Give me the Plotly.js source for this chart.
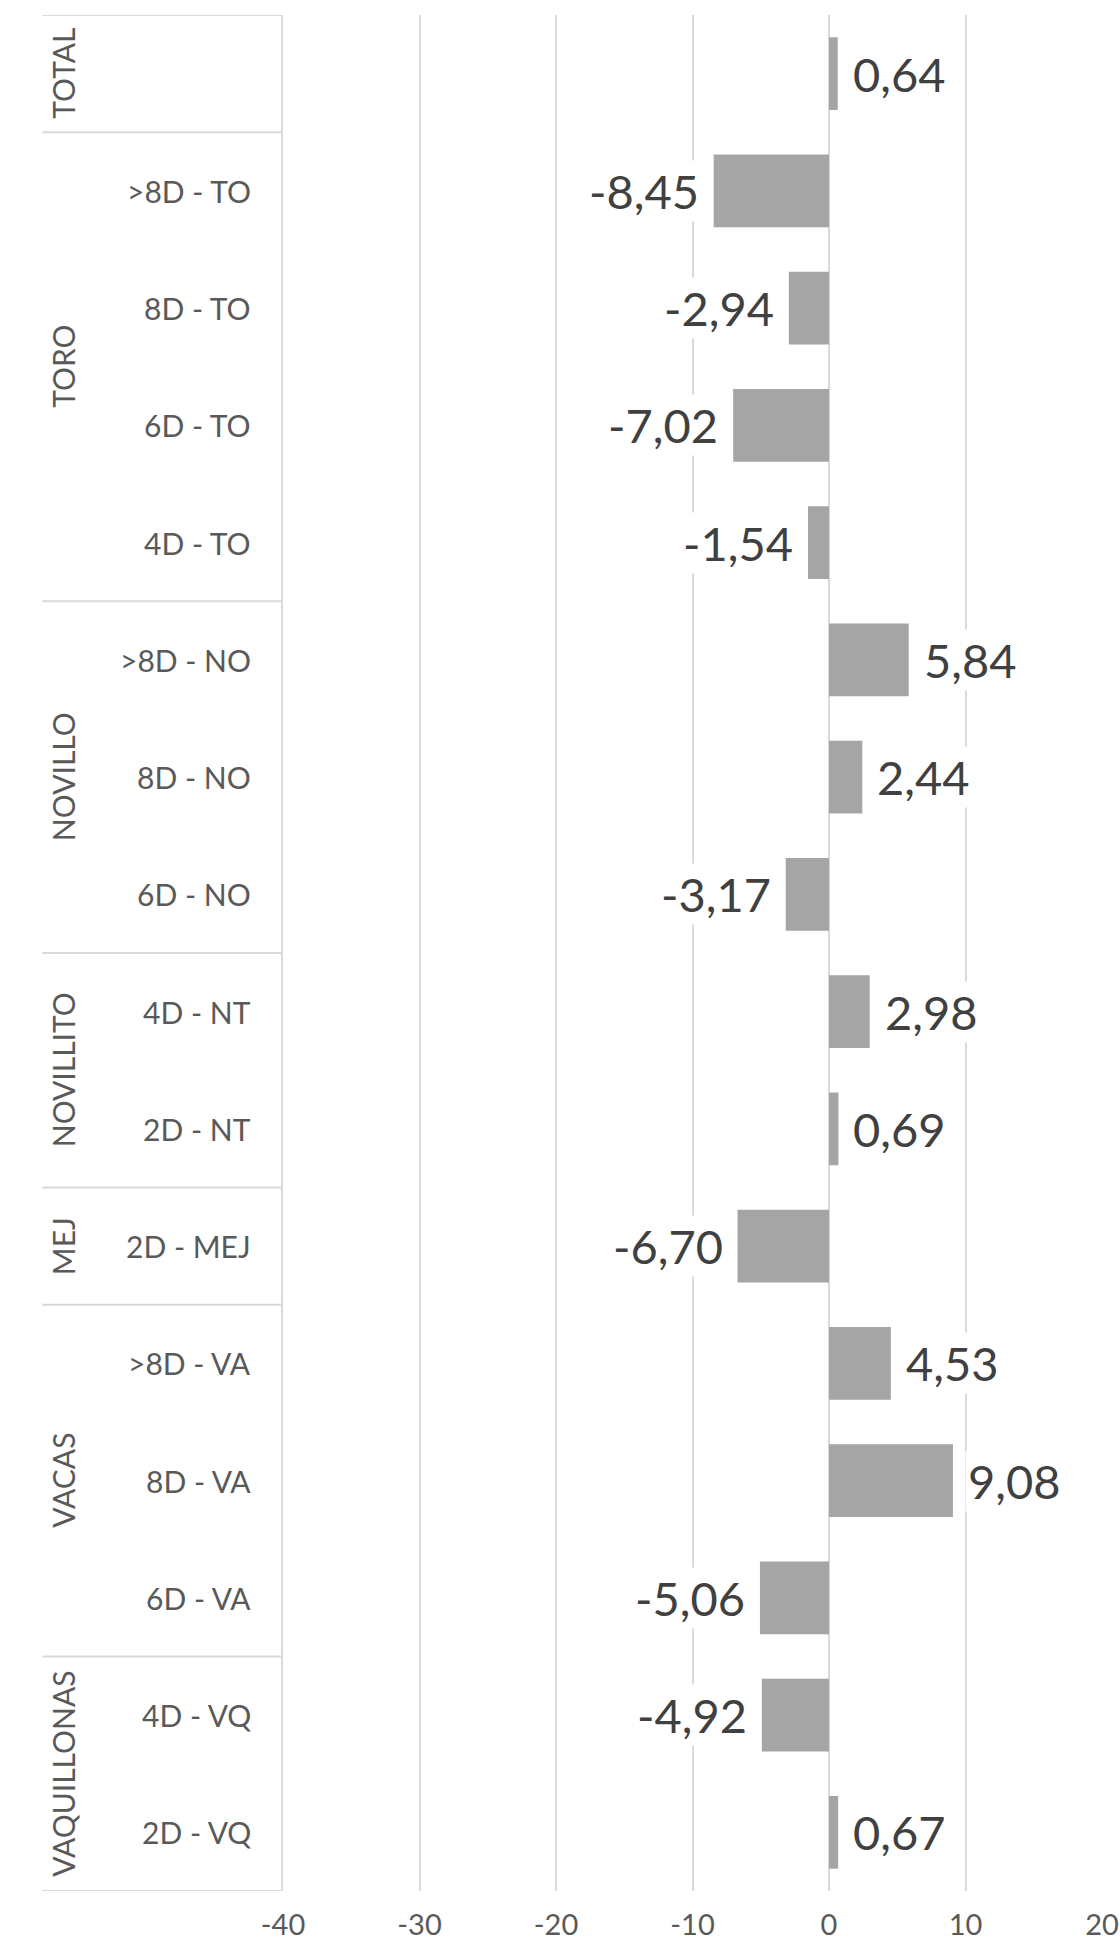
<!DOCTYPE html>
<html>
<head>
<meta charset="utf-8">
<script src="https://cdn.plot.ly/plotly-3.0.1.min.js"></script>
<style>
  html, body { margin: 0; padding: 0; background: #ffffff; }
  #chart { width: 1120px; height: 1948px; }
</style>
</head>
<body>
<div id="chart"></div>
<script>
// ---- data ----
const groups = ["TOTAL", "TORO", "NOVILLO", "NOVILLITO", "MEJ", "VACAS", "VAQUILLONAS"];
const groupSizes = [1, 4, 3, 2, 1, 3, 2];
const subcategories = ["", ">8D - TO", "8D - TO", "6D - TO", "4D - TO",
  ">8D - NO", "8D - NO", "6D - NO", "4D - NT", "2D - NT", "2D - MEJ",
  ">8D - VA", "8D - VA", "6D - VA", "4D - VQ", "2D - VQ"];
const values = [0.64, -8.45, -2.94, -7.02, -1.54, 5.84, 2.44, -3.17,
  2.98, 0.69, -6.70, 4.53, 9.08, -5.06, -4.92, 0.67];
const tickValues = [-40, -30, -20, -10, 0, 10, 20];
const tickLabels = ["-40", "-30", "-20", "-10", "0", "10", "20"];

// ---- build ----
const positions = values.map((v, i) => i);
const labelFont = "Lato, 'Open Sans', sans-serif";
const gridColor = "#D9D9D9";

const traces = [{
  type: "bar",
  orientation: "h",
  x: values,
  y: positions,
  marker: { color: "#A5A5A5" },
  hoverinfo: "x",
  showlegend: false
}];

const annotations = [];
const shapes = [];

// data labels
values.forEach((v, i) => {
  annotations.push({
    x: v, y: i, xref: "x", yref: "y",
    text: v.toFixed(2).replace(".", ","),
    showarrow: false,
    xanchor: v >= 0 ? "left" : "right",
    yanchor: "middle",
    xshift: v >= 0 ? 12 : -12,
    bgcolor: "#ffffff",
    borderpad: 2,
    font: { family: labelFont, size: 47, color: "#404040" }
  });
});

// subcategory labels
subcategories.forEach((s, i) => {
  if (!s) return;
  annotations.push({
    x: 0, y: i, xref: "paper", yref: "y",
    text: s, showarrow: false,
    xanchor: "right", yanchor: "middle", xshift: -30,
    font: { family: labelFont, size: 30, color: "#595959" }
  });
});

// group labels and dividers
const labelPanelLeft = -0.294;
const groupLabelX = -0.2686;
let start = 0;
shapes.push({
  type: "line", xref: "paper", yref: "y",
  x0: labelPanelLeft, x1: 0, y0: -0.5, y1: -0.5,
  line: { color: gridColor, width: 2 }
});
groups.forEach((g, gi) => {
  const end = start + groupSizes[gi];
  annotations.push({
    x: groupLabelX, y: (start + end - 1) / 2, xref: "paper", yref: "y",
    text: g, showarrow: false, textangle: -90,
    xanchor: "center", yanchor: "middle",
    font: { family: labelFont, size: 30, color: "#595959" }
  });
  shapes.push({
    type: "line", xref: "paper", yref: "y",
    x0: labelPanelLeft, x1: 0, y0: end - 0.5, y1: end - 0.5,
    line: { color: gridColor, width: 2 }
  });
  start = end;
});

const layout = {
  width: 1120,
  height: 1948,
  margin: { l: 283, r: 18, t: 15, b: 57 },
  paper_bgcolor: "#ffffff",
  plot_bgcolor: "#ffffff",
  bargap: 0.38,
  showlegend: false,
  xaxis: {
    range: [-40, 20],
    tickvals: tickValues,
    ticktext: tickLabels,
    showgrid: true,
    gridcolor: gridColor,
    gridwidth: 2,
    zeroline: false,
    showline: false,
    ticks: "",
    ticklabelstandoff: 14,
    tickfont: { family: labelFont, size: 29, color: "#595959" },
    fixedrange: true
  },
  yaxis: {
    range: [values.length - 0.5, -0.5],
    showticklabels: false,
    showgrid: false,
    zeroline: false,
    showline: true,
    linecolor: gridColor,
    linewidth: 2,
    ticks: "",
    fixedrange: true
  },
  annotations: annotations,
  shapes: shapes
};

Plotly.newPlot("chart", traces, layout, { displayModeBar: false, staticPlot: true });
</script>
</body>
</html>
